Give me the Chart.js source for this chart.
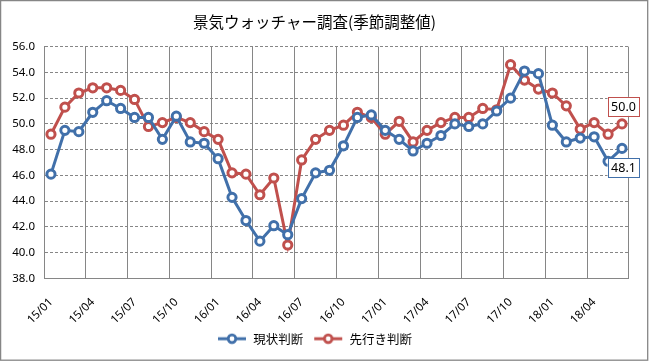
<!DOCTYPE html>
<html>
<head>
<meta charset="utf-8">
<script src="https://cdn.jsdelivr.net/npm/chart.js@4/dist/chart.umd.min.js"></script>
<style>
  html, body { margin: 0; padding: 0; background: #fff; }
  #wrap { width: 649px; height: 361px; position: relative; }
</style>
</head>
<body>
<div id="wrap"><canvas id="c" width="649" height="361"></canvas></div>
<script>
// ---- data ----
const months = [
  '15/01','15/02','15/03','15/04','15/05','15/06','15/07','15/08','15/09','15/10','15/11','15/12',
  '16/01','16/02','16/03','16/04','16/05','16/06','16/07','16/08','16/09','16/10','16/11','16/12',
  '17/01','17/02','17/03','17/04','17/05','17/06','17/07','17/08','17/09','17/10','17/11','17/12',
  '18/01','18/02','18/03','18/04','18/05','18/06'
];
const currentDI = [
  46.1, 49.5, 49.4, 50.9, 51.8, 51.2, 50.5, 50.5, 48.8, 50.6, 48.6, 48.5,
  47.3, 44.3, 42.5, 40.9, 42.1, 41.4, 44.2, 46.2, 46.4, 48.3, 50.5, 50.7,
  49.5, 48.8, 47.9, 48.5, 49.1, 50.0, 49.8, 50.0, 51.0, 52.0, 54.1, 53.9,
  49.9, 48.6, 48.9, 49.0, 47.1, 48.1
];
const outlookDI = [
  49.2, 51.3, 52.4, 52.8, 52.8, 52.6, 51.9, 49.8, 50.1, 50.5, 50.1, 49.4,
  48.8, 46.2, 46.1, 44.5, 45.8, 40.6, 47.2, 48.8, 49.5, 49.9, 50.9, 50.5,
  49.2, 50.2, 48.6, 49.5, 50.1, 50.5, 50.5, 51.2, 51.1, 54.6, 53.4, 52.7,
  52.4, 51.4, 49.6, 50.1, 49.2, 50.0
];
const seriesNames = ['現状判断', '先行き判断'];
const titleText = '景気ウォッチャー調査(季節調整値)';
const yMin = 38, yMax = 56, yStep = 2;

// ---- styles ----
const BLUE = '#4170AA';
const RED = '#C0504D';
const GRID = '#868686';
const FONT = "'Noto Sans', 'Noto Sans CJK JP', sans-serif";
const JFONT = "'Noto Sans CJK JP', 'Noto Sans', sans-serif";

function legendIcon(color) {
  const cv = document.createElement('canvas');
  cv.width = 30; cv.height = 12;
  const g = cv.getContext('2d');
  g.strokeStyle = color; g.lineWidth = 3;
  g.beginPath(); g.moveTo(1, 6); g.lineTo(29, 6); g.stroke();
  g.beginPath(); g.arc(15, 6, 3.8, 0, Math.PI * 2);
  g.fillStyle = '#fff'; g.fill();
  g.lineWidth = 2.8; g.stroke();
  return cv;
}
const icons = [legendIcon(BLUE), legendIcon(RED)];

const bgPlugin = {
  id: 'bgBorder',
  beforeDraw(chart) {
    const ctx = chart.ctx;
    ctx.save();
    ctx.fillStyle = '#fff';
    ctx.fillRect(0, 0, chart.width, chart.height);
    ctx.restore();
  },
  afterDraw(chart) {
    const ctx = chart.ctx;
    ctx.save();
    ctx.strokeStyle = GRID;
    ctx.lineWidth = 1.3;
    ctx.strokeRect(0.6, 0.6, chart.width - 1.9, chart.height - 1.4);
    ctx.restore();
  }
};

const lastLabelPlugin = {
  id: 'lastLabels',
  afterDatasetsDraw(chart) {
    const ctx = chart.ctx;
    ctx.save();
    ctx.font = '12.5px ' + FONT;
    ctx.textAlign = 'center';
    ctx.textBaseline = 'middle';
    chart.data.datasets.forEach((ds, di) => {
      const meta = chart.getDatasetMeta(di);
      const n = ds.data.length - 1;
      const pt = meta.data[n];
      const txt = ds.data[n].toFixed(1);
      const w = 31, h = 19;
      const cx = pt.x + 1;
      const top = di === 1 ? pt.y - 8 - h : pt.y + 10;
      ctx.fillStyle = '#fff';
      ctx.fillRect(cx - w / 2, top, w, h);
      ctx.strokeStyle = ds.borderColor;
      ctx.lineWidth = 1;
      ctx.strokeRect(Math.round(cx - w / 2) + 0.5, Math.round(top) + 0.5, w, h);
      ctx.fillStyle = '#000';
      ctx.fillText(txt, cx + 0.5, top + h / 2 + 1);
    });
    ctx.restore();
  }
};

new Chart(document.getElementById('c'), {
  type: 'line',
  data: {
    labels: months,
    datasets: [
      {
        label: seriesNames[0], data: currentDI,
        borderColor: BLUE, backgroundColor: '#fff', borderWidth: 3,
        pointRadius: 4.1, pointBorderWidth: 3, pointBackgroundColor: '#fff', pointBorderColor: BLUE,
        tension: 0
      },
      {
        label: seriesNames[1], data: outlookDI,
        borderColor: RED, backgroundColor: '#fff', borderWidth: 3,
        pointRadius: 4.1, pointBorderWidth: 3, pointBackgroundColor: '#fff', pointBorderColor: RED,
        tension: 0
      }
    ]
  },
  options: {
    responsive: false,
    animation: false,
    devicePixelRatio: 1,
    layout: { padding: { left: 0, right: 20, top: 0, bottom: 6 } },
    plugins: {
      title: {
        display: true, text: titleText, color: '#000',
        font: { family: JFONT, size: 15.5, weight: 'normal' },
        padding: { top: 13, bottom: 15 }
      },
      legend: {
        position: 'bottom',
        labels: {
          usePointStyle: true, pointStyleWidth: 30, boxHeight: 12,
          color: '#000', padding: 10,
          font: { family: JFONT, size: 12.5 },
          generateLabels(chart) {
            return chart.data.datasets.map((ds, i) => ({
              text: ds.label, pointStyle: icons[i], fillStyle: ds.borderColor,
              strokeStyle: ds.borderColor, lineWidth: 0, hidden: false, datasetIndex: i,
              fontColor: '#000'
            }));
          }
        }
      },
      tooltip: { enabled: false }
    },
    scales: {
      x: {
        offset: true,
        grid: {
          offset: true, drawTicks: false, lineWidth: 1,
          color: c => (c.index === undefined || c.index % 3 === 0) ? GRID : 'rgba(0,0,0,0)'
        },
        border: { display: true, color: GRID, width: 1 },
        ticks: {
          autoSkip: false, maxRotation: 45, minRotation: 45, padding: 17,
          color: '#000', font: { family: FONT, size: 11.5 },
          callback: function (v, i) { return i % 3 === 0 ? months[i] : ''; }
        },
        afterFit(s) { s.height = 44; }
      },
      y: {
        min: yMin, max: yMax,
        grid: { color: GRID, lineWidth: 1, drawTicks: false },
        border: { display: true, color: GRID, width: 1, dash: [3, 2] },
        ticks: {
          stepSize: yStep, padding: 9, color: '#000',
          font: { family: FONT, size: 11.5 },
          callback: v => v.toFixed(1)
        },
        afterFit(s) { s.width = 44; }
      }
    }
  },
  plugins: [bgPlugin, lastLabelPlugin]
});
</script>
</body>
</html>
